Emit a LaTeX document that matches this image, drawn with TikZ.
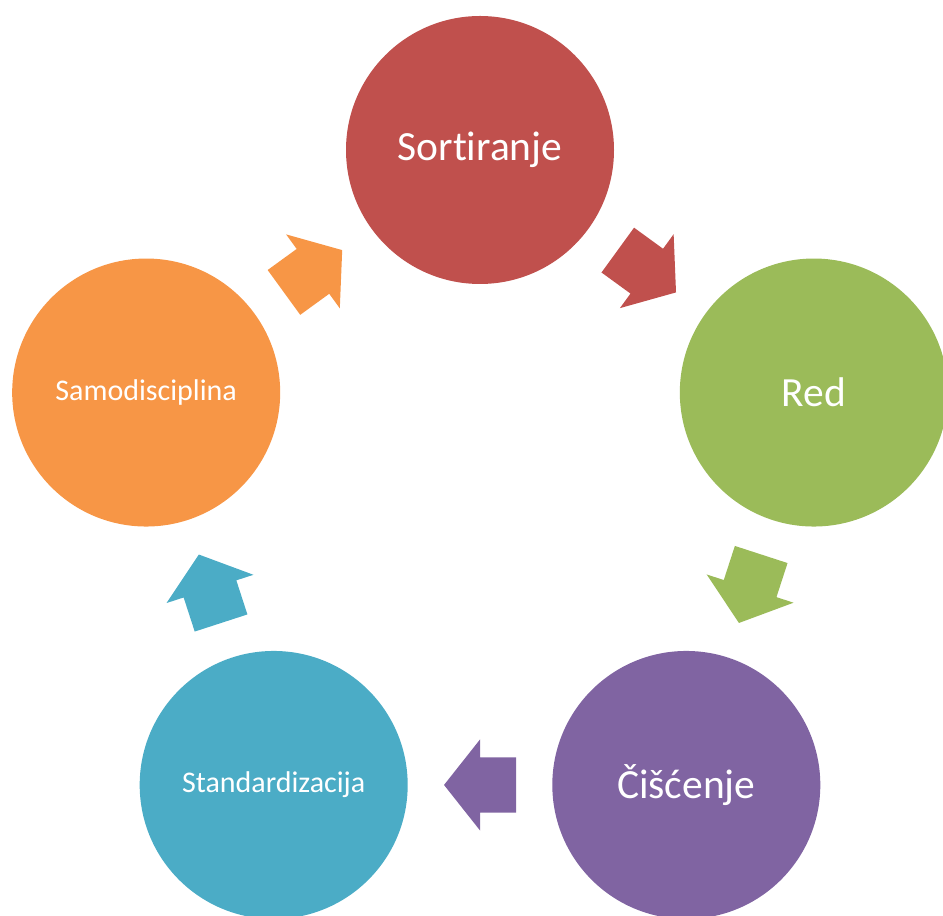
\documentclass[tikz,border=0pt]{standalone}
\usepackage{fontspec}
\setmainfont{Carlito}[Ligatures=NoCommon]
\usetikzlibrary{shapes.arrows}
\definecolor{sred}{HTML}{C0504D}
\definecolor{sgreen}{HTML}{9BBB59}
\definecolor{spurple}{HTML}{8064A2}
\definecolor{steal}{HTML}{4BACC6}
\definecolor{sorange}{HTML}{F79646}
\begin{document}
\begin{tikzpicture}[x=1pt,y=1pt,
  stage/.style={circle, minimum size=268pt, inner sep=0pt, text=white},
  bigtext/.style={font=\fontsize{41.5}{49}\selectfont},
  smalltext/.style={font=\fontsize{30}{36}\selectfont},
  blockarrow/.style={single arrow, minimum height=72pt,
    single arrow head extend=18pt, single arrow tip angle=103.3,
    inner xsep=0pt, inner ysep=27.5pt, outer sep=0pt, sloped, allow upside down,
    anchor=tail, pos=0.4127}]
\useasboundingbox (0,0) rectangle (943,916);
\coordinate (o) at (480,415);
\path (o) ++(90:351) node[stage, bigtext, fill=sred] (s) {Sortiranje};
\path (o) ++(18:351) node[stage, bigtext, fill=sgreen] (r) {Red};
\path (o) ++(-54:351) node[stage, bigtext, fill=spurple] (c) {Čišćenje};
\path (o) ++(-126:351) node[stage, smalltext, fill=steal] (st) {Standardizacija};
\path (o) ++(162:351) node[stage, smalltext, fill=sorange] (sa) {Samodisciplina};
\path (s.center) -- node[blockarrow, fill=sred] (a1) {} (r.center);
\path (r.center) -- node[blockarrow, fill=sgreen] (a2) {} (c.center);
\path (c.center) -- node[blockarrow, fill=spurple] (a3) {} (st.center);
\path (st.center) -- node[blockarrow, fill=steal] (a4) {} (sa.center);
\path (sa.center) -- node[blockarrow, fill=sorange] (a5) {} (s.center);
\end{tikzpicture}
\end{document}
